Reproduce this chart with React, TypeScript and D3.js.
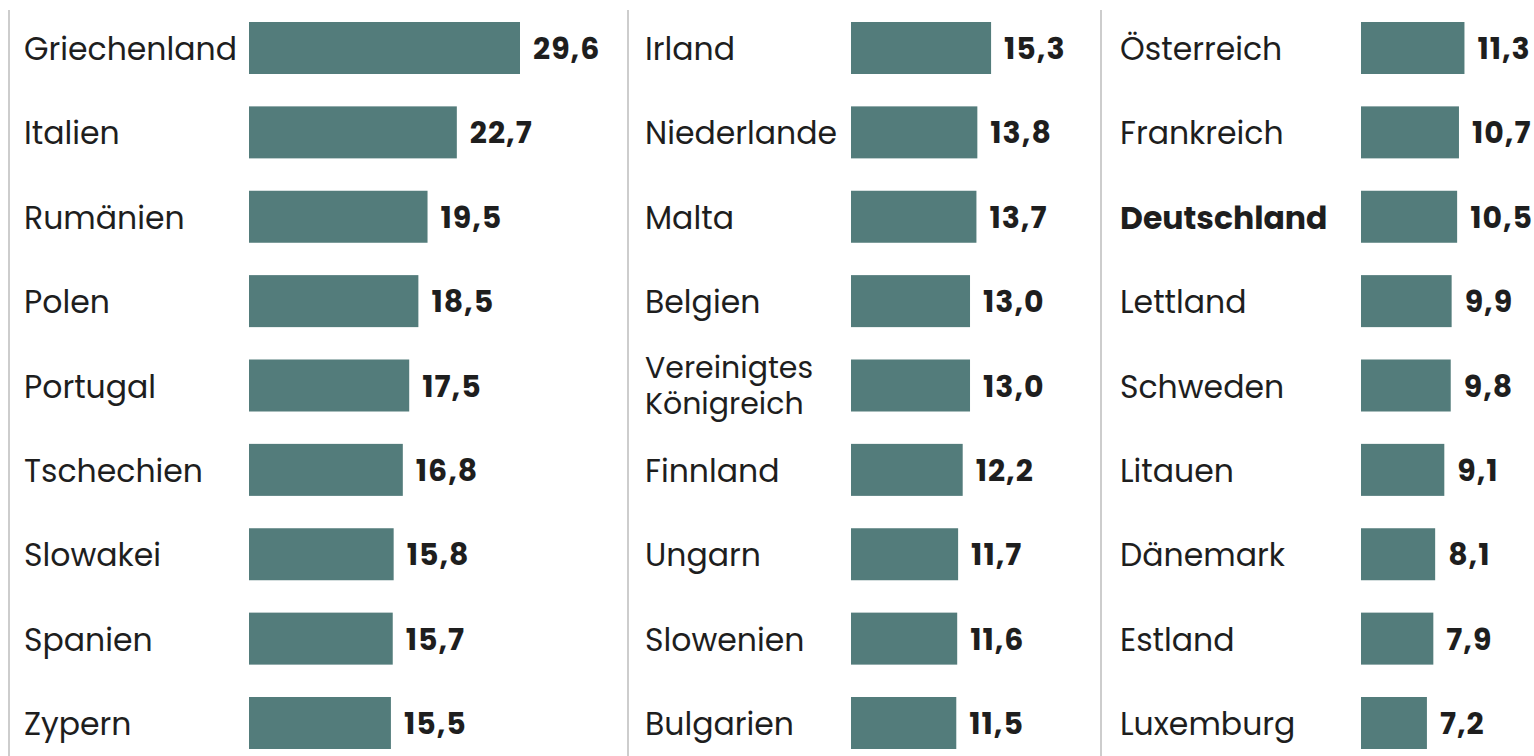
import React from "react";
import * as d3 from "d3";

const col1Names = ["Griechenland", "Italien", "Rumänien", "Polen", "Portugal", "Tschechien", "Slowakei", "Spanien", "Zypern"];
const col1Values = [29.6, 22.7, 19.5, 18.5, 17.5, 16.8, 15.8, 15.7, 15.5];
const col2Names = ["Irland", "Niederlande", "Malta", "Belgien", "Vereinigtes Königreich", "Finnland", "Ungarn", "Slowenien", "Bulgarien"];
const col2Values = [15.3, 13.8, 13.7, 13.0, 13.0, 12.2, 11.7, 11.6, 11.5];
const col3Names = ["Österreich", "Frankreich", "Deutschland", "Lettland", "Schweden", "Litauen", "Dänemark", "Estland", "Luxemburg"];
const col3Values = [11.3, 10.7, 10.5, 9.9, 9.8, 9.1, 8.1, 7.9, 7.2];
const highlighted = ["Deutschland"];

const W = 1534;
const H = 756;
const BAR = "#537c7b";
const TEXT = "#1e1e1e";
const FONT = "Poppins, 'Open Sans', sans-serif";

const columns = [
  { names: col1Names, values: col1Values, sepX: 9, labelX: 24, barX: 249 },
  { names: col2Names, values: col2Values, sepX: 628, labelX: 645, barX: 851 },
  { names: col3Names, values: col3Values, sepX: 1101, labelX: 1120, barX: 1361 },
];

const fmt = d3.formatLocale({ decimal: ",", thousands: ".", grouping: [3], currency: ["", "€"] }).format(".1f");

export default function App() {
  const x = d3.scaleLinear().domain([0, 29.6]).range([0, 271]);
  const y = d3.scaleLinear().domain([0, 8]).range([22, 697]);
  const bh = 52;

  return (
    <svg width={W} height={H} style={{ position: "absolute", left: 0, top: 0, background: "#fff" }} fontFamily={FONT}>
      {columns.map((c, ci) => (
        <g key={ci}>
          <line x1={c.sepX} x2={c.sepX} y1={10} y2={H} stroke="#bdbdbd" strokeWidth={1.5} />
          {c.names.map((n, i) => {
            const top = y(i);
            const cy = top + bh / 2;
            const w = x(c.values[i]);
            const bold = highlighted.includes(n);
            const parts = n === "Vereinigtes Königreich" ? ["Vereinigtes", "Königreich"] : [n];
            return (
              <g key={n}>
                <rect x={c.barX} y={top} width={w} height={bh} fill={BAR} />
                {parts.length === 1 ? (
                  <text x={c.labelX} y={cy + 12} fontSize={31.5} fill={TEXT} fontWeight={bold ? 700 : 400}>{n}</text>
                ) : (
                  <text x={c.labelX} fontSize={30} fill={TEXT}>
                    <tspan x={c.labelX} y={cy - 8}>{parts[0]}</tspan>
                    <tspan x={c.labelX} y={cy + 28}>{parts[1]}</tspan>
                  </text>
                )}
                <text x={c.barX + w + 13} y={cy + 11} fontSize={30} letterSpacing={1} fontWeight={700} fill={TEXT}>{fmt(c.values[i])}</text>
              </g>
            );
          })}
        </g>
      ))}
    </svg>
  );
}
